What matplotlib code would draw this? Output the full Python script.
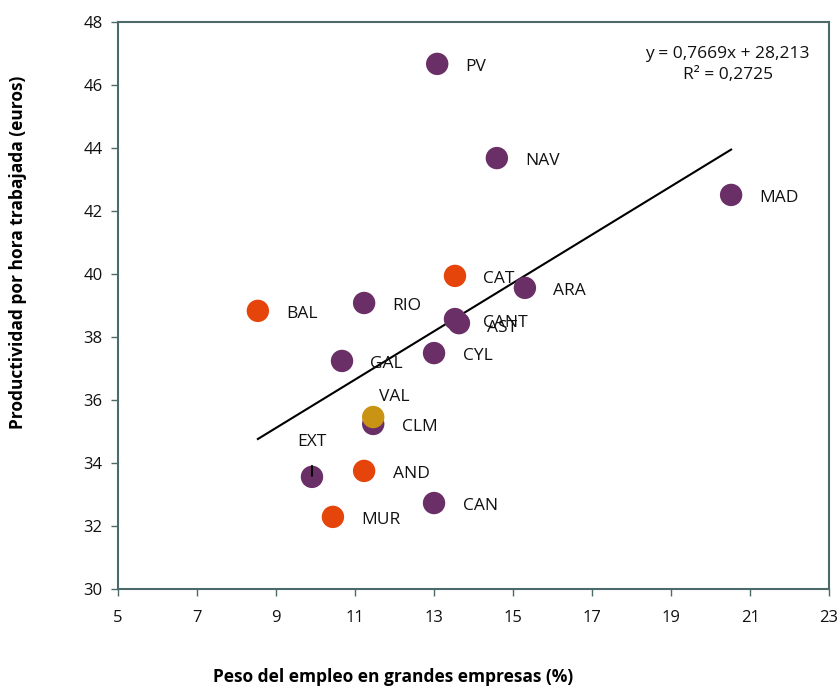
import matplotlib.pyplot as plt

plt.rcParams['font.family'] = ['Open Sans', 'DejaVu Sans']

# datos
regiones = ["PV", "NAV", "MAD", "CAT", "ARA", "RIO", "BAL", "CANT", "AST",
            "CYL", "GAL", "VAL", "CLM", "AND", "EXT", "CAN", "MUR"]
peso = [13.08, 14.59, 20.52, 13.53, 15.30, 11.23, 8.54, 13.53, 13.63,
        13.00, 10.67, 11.46, 11.46, 11.23, 9.91, 13.00, 10.44]
productividad = [46.67, 43.68, 42.51, 39.94, 39.56, 39.08, 38.83, 38.57, 38.44,
                 37.49, 37.24, 35.46, 35.24, 33.75, 33.56, 32.73, 32.29]
grupo = ["p", "p", "p", "o", "p", "p", "o", "p", "p",
         "p", "p", "g", "p", "o", "p", "p", "o"]

# recta de tendencia (del propio grafico)
pendiente = 0.7669
ordenada = 28.213

colores = {"p": "#6B2F68", "o": "#E5440A", "g": "#C99413"}
spine_col = "#4D6A6A"
fs = 12.5

fig = plt.figure(figsize=(8.4, 6.87), dpi=100)
ax = fig.add_axes([0.1405, 0.1426, 0.8465, 0.8254])

# tendencia
xmin, xmax = min(peso), max(peso)
ax.plot([xmin, xmax], [pendiente * xmin + ordenada, pendiente * xmax + ordenada],
        color='black', lw=1.5, zorder=2)

# dibujar en orden para que VAL quede encima de CLM
orden = [i for i in range(len(regiones)) if regiones[i] != "VAL"] + [regiones.index("VAL")]
for i in orden:
    ax.scatter(peso[i], productividad[i], s=260, color=colores[grupo[i]],
               edgecolors='none', zorder=3)

# etiquetas
for i, r in enumerate(regiones):
    if r == "EXT":
        ax.annotate(r, (peso[i], productividad[i]), xytext=(0, 19),
                    textcoords='offset points', ha='center', va='bottom',
                    fontsize=fs, color='#111111')
        ax.annotate("", (peso[i], productividad[i] - 0.05), xytext=(0, 11),
                    textcoords='offset points',
                    arrowprops=dict(arrowstyle='-', color='black', lw=1.5))
    elif r == "VAL":
        ax.annotate(r, (peso[i], productividad[i]), xytext=(15, 9),
                    textcoords='offset points', ha='center', va='bottom',
                    fontsize=fs, color='#111111')
    elif r == "CANT":
        ax.annotate(r, (peso[i], productividad[i]), xytext=(20, -2.5),
                    textcoords='offset points', ha='left', va='center',
                    fontsize=fs, color='#111111')
    elif r == "AST":
        ax.annotate(r, (peso[i], productividad[i]), xytext=(20, -3.5),
                    textcoords='offset points', ha='left', va='center',
                    fontsize=fs, color='#111111')
    else:
        ax.annotate(r, (peso[i], productividad[i]), xytext=(20.5, -2),
                    textcoords='offset points', ha='left', va='center',
                    fontsize=fs, color='#111111')

ax.text(0.973, 0.958, "y = 0,7669x + 28,213\nR² = 0,2725", transform=ax.transAxes,
        ha='right', va='top', fontsize=12.5, linespacing=1.4, color='#111111',
        multialignment='center')

ax.set_xlim(5, 23)
ax.set_ylim(30, 48)
ax.set_xticks(range(5, 24, 2))
ax.set_yticks(range(30, 49, 2))
for s in ax.spines.values():
    s.set_color(spine_col)
    s.set_linewidth(1.5)
ax.tick_params(direction='out', length=5, width=1, color=spine_col,
               labelsize=12, labelcolor='#111111', pad=10)
ax.tick_params(axis='y', pad=6)

fig.text(0.468, 0.002, "Peso del empleo en grandes empresas (%)", ha='center',
         va='bottom', fontsize=12.5, fontweight='bold', color='black')
fig.text(0.021, 0.633, "Productividad por hora trabajada (euros)", ha='center',
         va='center', rotation=90, fontsize=12.5, fontweight='bold', color='black')

fig.savefig("out.png", dpi=100)
